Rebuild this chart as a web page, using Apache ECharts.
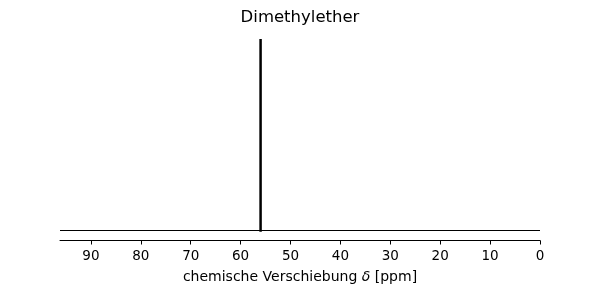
<!DOCTYPE html>
<html><head><meta charset="utf-8">
<script src="https://cdn.jsdelivr.net/npm/echarts@6/dist/echarts.min.js"></script>
<style>html,body{margin:0;padding:0;background:#fff}#c{width:600px;height:300px}</style>
</head><body><div id="c"></div>
<script>
var title = 'Dimethylether';
var xLabel = 'chemische Verschiebung';
var xRange = [0, 96.2];
var peakShift = [56.0];
var peakHeight = [1];
var baselineShift = [96.2, 0];
var baselineValue = [0, 0];

var baseData = baselineShift.map(function(s,i){return [s, baselineValue[i]];});
var peakData = [];
peakShift.forEach(function(s,i){ peakData.push([s, -0.01]); peakData.push([s, peakHeight[i]]); });

var chart = echarts.init(document.getElementById('c'), null, {renderer:'canvas'});
chart.setOption({
  animation:false,
  backgroundColor:'#fff',
  title:{text:title,left:'center',top:4,textStyle:{fontFamily:'DejaVu Sans',fontSize:16.5,fontWeight:'normal',color:'#000'}},
  grid:{left:60,right:60,top:39,bottom:69.5},
  xAxis:{type:'value',inverse:true,min:xRange[0],max:xRange[1],interval:10,offset:10,
    axisLine:{show:true,onZero:false,lineStyle:{color:'#000',width:1}},
    axisTick:{show:true,length:4,inside:false,lineStyle:{color:'#000'}},
    axisLabel:{color:'#000',fontFamily:'DejaVu Sans',fontSize:13.5,margin:9,showMaxLabel:false},
    splitLine:{show:false},
    name:'{n|'+xLabel+' }{i|δ}{n| [ppm]}',nameLocation:'middle',nameGap:30,
    nameTextStyle:{rich:{n:{fontFamily:'DejaVu Sans',fontSize:14,color:'#000'},i:{fontFamily:'DejaVu Sans',fontStyle:'italic',fontSize:14,color:'#000'}}}
  },
  yAxis:{type:'value',show:false,min:0,max:1},
  series:[
    {type:'line',data:baseData,symbol:'none',lineStyle:{color:'#000',width:1},silent:true},
    {type:'line',data:peakData,symbol:'none',lineStyle:{color:'#000',width:2.5,cap:'butt'},silent:true}
  ]
});
</script></body></html>
